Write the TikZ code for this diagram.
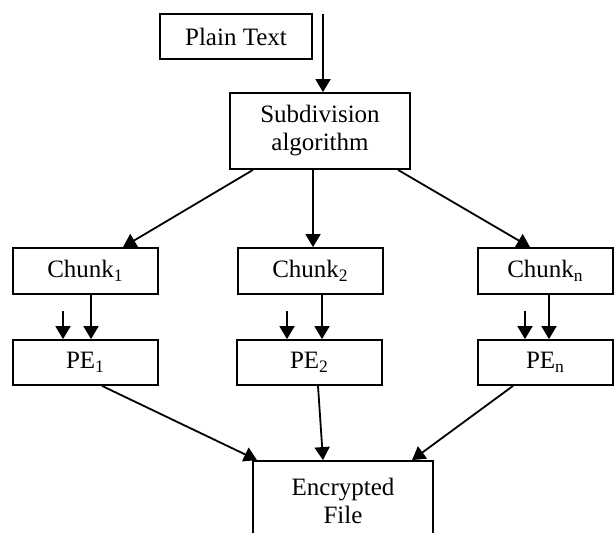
\documentclass[tikz,border=0pt]{standalone}
\usepackage{fontspec}
\setmainfont{Liberation Serif}
\usetikzlibrary{arrows.meta,calc}
\begin{document}
\begin{tikzpicture}[x=0.5pt,y=-0.5pt,
    box/.style={rectangle, draw, line width=0.9pt, align=center,
      font=\fontsize{12.5}{14}\selectfont, inner sep=0pt},
    arr/.style={-{Triangle[length=6.5pt,width=7.5pt]}, line width=0.9pt}]
  \useasboundingbox (0,0) rectangle (614,533);
  % Nodes
  \node (pt) [box, minimum width=76pt, minimum height=22.5pt] at (236,36.5) {Plain Text};
  \node (sub) [box, minimum width=90pt, minimum height=38pt] at (320,131) {Subdivision\\algorithm};
  \node (c1) [box, minimum width=72.5pt, minimum height=23pt] at (85.5,271) {Chunk\textsubscript{1}};
  \node (c2) [box, minimum width=72.5pt, minimum height=23pt] at (310.5,271) {Chunk\textsubscript{2}};
  \node (cn) [box, minimum width=67.5pt, minimum height=23pt] at (545.5,271) {Chunk\textsubscript{n}};
  \node (p1) [box, minimum width=72.5pt, minimum height=22.5pt] at (85.5,362.5) {PE\textsubscript{1}};
  \node (p2) [box, minimum width=72.5pt, minimum height=22.5pt] at (309.5,362.5) {PE\textsubscript{2}};
  \node (pn) [box, minimum width=67.5pt, minimum height=22.5pt] at (545.5,362.5) {PE\textsubscript{n}};
  \node (ef) [box, minimum width=90pt, minimum height=40pt] at (343,501) {Encrypted\\File};
  % Arrows
  \coordinate (in) at (323,14);
  \draw[arr] (in) -- (in |- sub.north);
  \draw[arr] ($(sub.south)+(-67,0)$) -- ($(c1.north)+(37.5,0)$);
  \draw[arr] ($(sub.south)+(-7,0)$) -- ($(c2.north)+(2.5,0)$);
  \draw[arr] ($(sub.south)+(78,0)$) -- ($(cn.north)+(-15.5,0)$);
  \foreach \i/\a/\b in {1/63/91, 2/287/322, n/525/549} {
    \coordinate (s\i) at (\a,311);
    \draw[arr] (s\i) -- (s\i |- p\i.north);
    \draw[arr] (\b,0 |- c\i.south) -- (\b,0 |- p\i.north);
  }
  \draw[arr] ($(p1.south)+(16.5,0)$) -- ($(ef.north)+(-86,0)$);
  \draw[arr] ($(p2.south)+(8.5,0)$) -- ($(ef.north)+(-20,0)$);
  \draw[arr] ($(pn.south)+(-32.5,0)$) -- ($(ef.north)+(69,0)$);
\end{tikzpicture}
\end{document}
